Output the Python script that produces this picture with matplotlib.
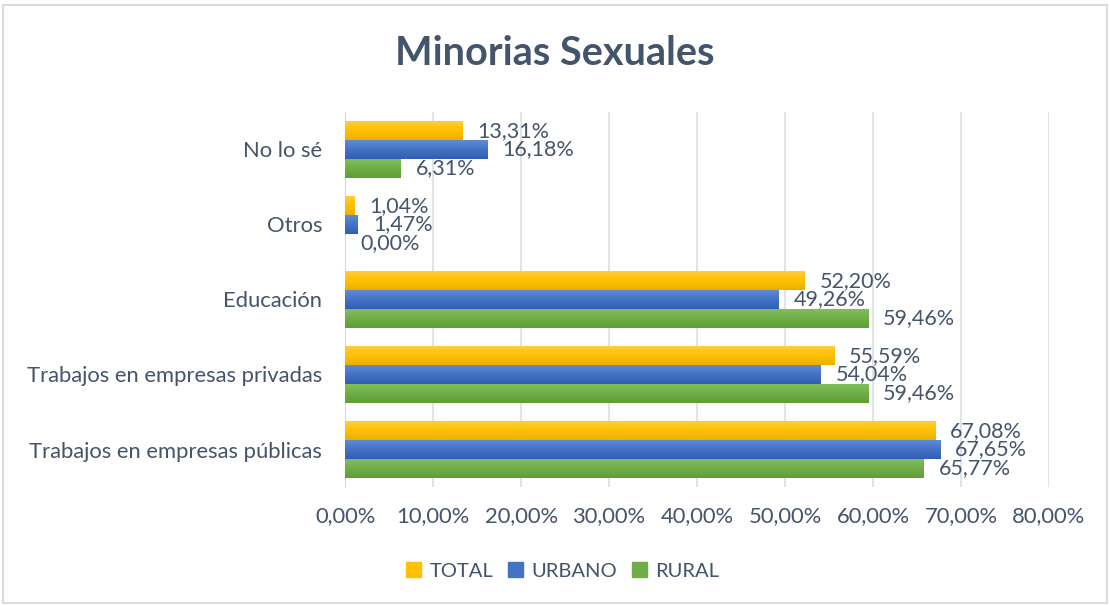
import matplotlib
matplotlib.use("Agg")
import matplotlib.pyplot as plt
import numpy as np
from matplotlib.patches import Rectangle
from matplotlib.colors import LinearSegmentedColormap

categories = ["No lo sé", "Otros", "Educación",
              "Trabajos en empresas privadas", "Trabajos en empresas públicas"]
series_names = ["TOTAL", "URBANO", "RURAL"]
total = [13.31, 1.04, 52.20, 55.59, 67.08]
urbano = [16.18, 1.47, 49.26, 54.04, 67.65]
rural = [6.31, 0.00, 59.46, 59.46, 65.77]
xticks = [0, 10, 20, 30, 40, 50, 60, 70, 80]

colors = ["#FFC000", "#4472C4", "#70AD47"]
light = ["#FFCD3A", "#5F8AD6", "#82BD5C"]
dark = ["#EBAF00", "#2E5EB8", "#5F9E36"]
txt = "#44546A"

plt.rcParams['font.family'] = ['Lato', 'DejaVu Sans']

fig = plt.figure(figsize=(11.1, 6.05), dpi=100)
ax = fig.add_axes([0.311, 0.195, 0.634, 0.62])

n = len(categories)
y = np.arange(n)
h = 0.25
vals = [total, urbano, rural]
for i, (v, c) in enumerate(zip(vals, colors)):
    offs = (i - 1) * h
    bars = ax.barh(y + offs, v, height=h, color=c, zorder=2)
    cm = LinearSegmentedColormap.from_list("g%d" % i, [light[i], c, dark[i]])
    for b in bars:
        x0, y0 = b.get_x(), b.get_y()
        w, hh = b.get_width(), b.get_height()
        if w > 0:
            grad = np.linspace(0, 1, 50).reshape(-1, 1)
            ax.imshow(grad, cmap=cm, extent=(x0, x0 + w, y0 + hh, y0),
                      aspect='auto', zorder=3, interpolation='bicubic')
    for b, val in zip(bars, v):
        ax.annotate(f"{val:.2f}%".replace(".", ","),
                    (b.get_width(), b.get_y() + b.get_height() / 2),
                    xytext=(15, 0), textcoords="offset pixels",
                    va="center", ha="left", fontsize=15.5, color=txt, zorder=4)

ax.set_ylim(n - 0.5, -0.5)
ax.set_xlim(0, 80)
ax.set_xticks(xticks)
ax.set_xticklabels([f"{t:.2f}%".replace(".", ",") for t in xticks])
ax.set_yticks(y)
ax.set_yticklabels(categories)
ax.tick_params(axis='both', length=0, labelsize=15.8, labelcolor=txt)
ax.tick_params(axis='x', pad=14)
ax.tick_params(axis='y', pad=16.5)
ax.xaxis.grid(True, color="#D9DEE6", linewidth=1.2, zorder=0)
ax.set_axisbelow(True)
for s in ["top", "right", "bottom"]:
    ax.spines[s].set_visible(False)
ax.spines["left"].set_color("#D9D9D9")
ax.spines["left"].set_zorder(1)

fig.text(0.5, 0.912, "Minorias Sexuales", ha="center", va="center",
         fontsize=28.5, fontweight="bold", color=txt)

handles = [Rectangle((0, 0), 1, 1, color=c) for c in colors]
fig.legend(handles, series_names, loc="center", bbox_to_anchor=(0.507, 0.056),
           ncol=3, frameon=False, fontsize=14.5, labelcolor=txt,
           handlelength=0.75, handleheight=0.75, handletextpad=0.4, columnspacing=0.75)

fig.add_artist(Rectangle((0.003, 0.003), 0.994, 0.989, transform=fig.transFigure,
                         fill=False, edgecolor="#D9DCE1", linewidth=1.5))

fig.savefig("out.png", dpi=100)
